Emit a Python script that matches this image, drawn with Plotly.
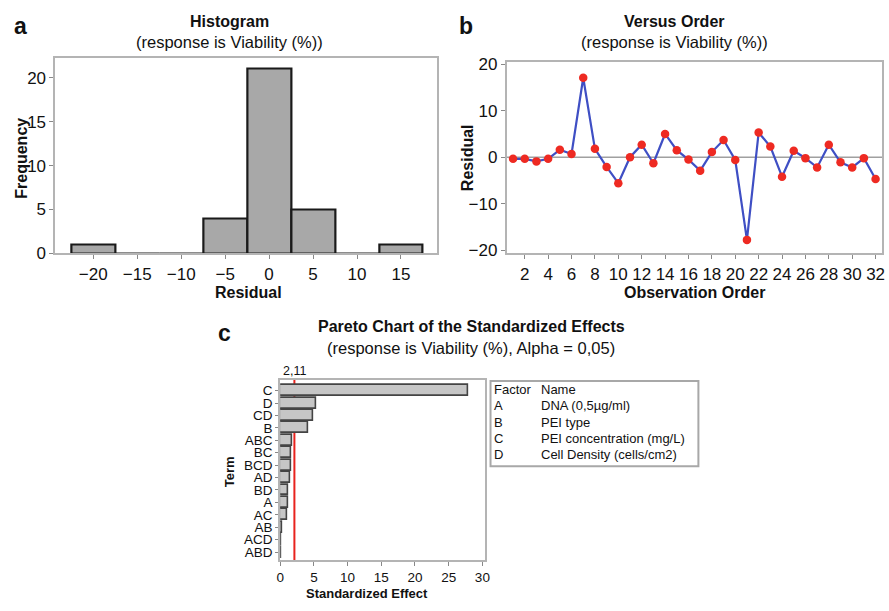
import plotly.graph_objects as go

# ---------------- data ----------------
hist_centers = [-20, -15, -10, -5, 0, 5, 10, 15]
hist_counts = [1, 0, 0, 4, 21, 5, 0, 1]

order = list(range(1, 33))
residuals = [-0.35, -0.35, -0.9, -0.35, 1.6, 0.7, 17.1, 1.8, -2.1, -5.6,
             0.0, 2.7, -1.3, 5.0, 1.5, -0.5, -2.9, 1.1, 3.7, -0.6,
             -17.8, 5.3, 2.3, -4.2, 1.4, -0.2, -2.2, 2.7, -1.1, -2.2,
             -0.2, -4.7]

terms = ["C", "D", "CD", "B", "ABC", "BC", "BCD", "AD", "BD", "A", "AC", "AB", "ACD", "ABD"]
effects = [27.9, 5.3, 4.9, 4.2, 1.85, 1.7, 1.65, 1.55, 1.2, 1.15, 1.1, 0.35, 0.2, 0.1]
alpha_line = 2.11

factors = ["A", "B", "C", "D"]
factor_names = ["DNA (0,5µg/ml)", "PEI type", "PEI concentration (mg/L)", "Cell Density (cells/cm2)"]

W, H = 889, 611
FONT = "Liberation Sans, Arial, sans-serif"


def px(x):
    return x / W


def py(y):
    return 1 - y / H


FRAME = "#b4b4b4"

fig = go.Figure()

# Histogram
fig.add_trace(go.Bar(x=hist_centers, y=hist_counts, width=5,
                     marker=dict(color="#a8a8a8", line=dict(color="#1a1a1a", width=2.2)),
                     xaxis="x", yaxis="y", showlegend=False))

# Versus order
fig.add_trace(go.Scatter(x=order, y=residuals, mode="lines+markers",
                         line=dict(color="#3f4fc4", width=2.2),
                         marker=dict(color="#ee2a22", size=8.5),
                         xaxis="x2", yaxis="y2", showlegend=False))

# Pareto
term_idx = list(range(len(terms)))
fig.add_trace(go.Bar(x=effects, y=term_idx, orientation="h", width=0.88,
                     marker=dict(color="#c6c6c6", line=dict(color="#444444", width=1.6)),
                     xaxis="x3", yaxis="y3", showlegend=False))

axis_common = dict(showgrid=False, zeroline=False, showline=True, mirror=True,
                   linecolor=FRAME, linewidth=2, ticks="outside", ticklen=4,
                   tickcolor="#888888", tickfont=dict(family=FONT, size=17, color="#111"))

fig.update_layout(
    width=W, height=H, margin=dict(l=0, r=0, t=0, b=0),
    paper_bgcolor="white", plot_bgcolor="white", bargap=0,
    font=dict(family=FONT, color="#111"),
    xaxis=dict(domain=[px(52), px(437)], range=[-24.3, 19.05],
               tickvals=[-20, -15, -10, -5, 0, 5, 10, 15], anchor="y", **axis_common),
    yaxis=dict(domain=[py(254), py(53)], range=[0, 22.3],
               tickvals=[0, 5, 10, 15, 20], anchor="x", **axis_common),
    xaxis2=dict(domain=[px(508), px(887)], range=[0.47, 32.55],
                tickvals=list(range(2, 33, 2)), anchor="y2", **axis_common),
    yaxis2=dict(domain=[py(254), py(57)], range=[-20.7, 20.6],
                tickvals=[-20, -10, 0, 10, 20], anchor="x2", **axis_common),
    xaxis3=dict(domain=[px(279), px(486)], range=[0, 30.4],
                tickvals=[0, 5, 10, 15, 20, 25, 30], anchor="y3",
                **{**axis_common, "tickfont": dict(family=FONT, size=13.5, color="#111")}),
    yaxis3=dict(domain=[py(569), py(384)], range=[13.65, -0.86],
                tickvals=term_idx, ticktext=terms, anchor="x3",
                **{**axis_common, "tickfont": dict(family=FONT, size=13.5, color="#111"), "ticklen": 3}),
)

# zero reference line on versus order
fig.add_shape(type="line", xref="x2 domain", yref="y2", x0=0, x1=1, y0=0, y1=0,
              line=dict(color="#a0a0a0", width=1.5), layer="below")

# alpha line in pareto
fig.add_shape(type="line", xref="x3", yref="y3 domain", x0=alpha_line, x1=alpha_line, y0=0, y1=1,
              line=dict(color="#e8231e", width=2), layer="below")

ann = []


def text(x, y, s, size, bold=False, xanchor="center", yanchor="middle", angle=0):
    ann.append(dict(x=px(x), y=py(y), xref="paper", yref="paper", showarrow=False,
                    text=f"<b>{s}</b>" if bold else s, xanchor=xanchor, yanchor=yanchor,
                    textangle=angle, font=dict(family=FONT, size=size, color="#111")))


# panel letters
text(8, 21, "a", 23, True, xanchor="left")
text(458, 21, "b", 23, True, xanchor="left")
text(214, 336, "c", 23, True, xanchor="left")

# titles
text(228, 16, "Histogram", 16, True)
text(228, 37, "(response is Viability (%))", 16.5)
text(677, 16, "Versus Order", 16, True)
text(677, 37, "(response is Viability (%))", 16.5)
text(472, 329, "Pareto Chart of the Standardized Effects", 16, True)
text(472, 351, "(response is Viability (%), Alpha = 0,05)", 16.5)

# axis titles
text(247, 294, "Residual", 16, True)
text(18, 156, "Frequency", 16, True, angle=-90)
text(698, 294, "Observation Order", 16, True)
text(469, 156, "Residual", 16, True, angle=-90)
text(367, 603, "Standardized Effect", 13, True)
text(228, 478, "Term", 13, True, angle=-90)

# alpha value label
ann.append(dict(x=alpha_line, y=py(375), xref="x3", yref="paper", showarrow=False,
                text="2,11", xanchor="center", yanchor="middle",
                font=dict(family=FONT, size=12.5, color="#111")))

# factor legend table
fig.add_shape(type="rect", xref="paper", yref="paper", x0=px(491.5), x1=px(701.5),
              y0=py(472.5), y1=py(385), line=dict(color="#a8a8a8", width=2))
text(493, 394, "Factor", 13, xanchor="left")
text(540, 394, "Name", 13, xanchor="left")
for i, (f, n) in enumerate(zip(factors, factor_names)):
    yy = 410.5 + i * 16.8
    text(493, yy, f, 13, xanchor="left")
    text(540, yy, n, 13, xanchor="left")

fig.update_layout(annotations=ann)

fig.write_html("out.html")
